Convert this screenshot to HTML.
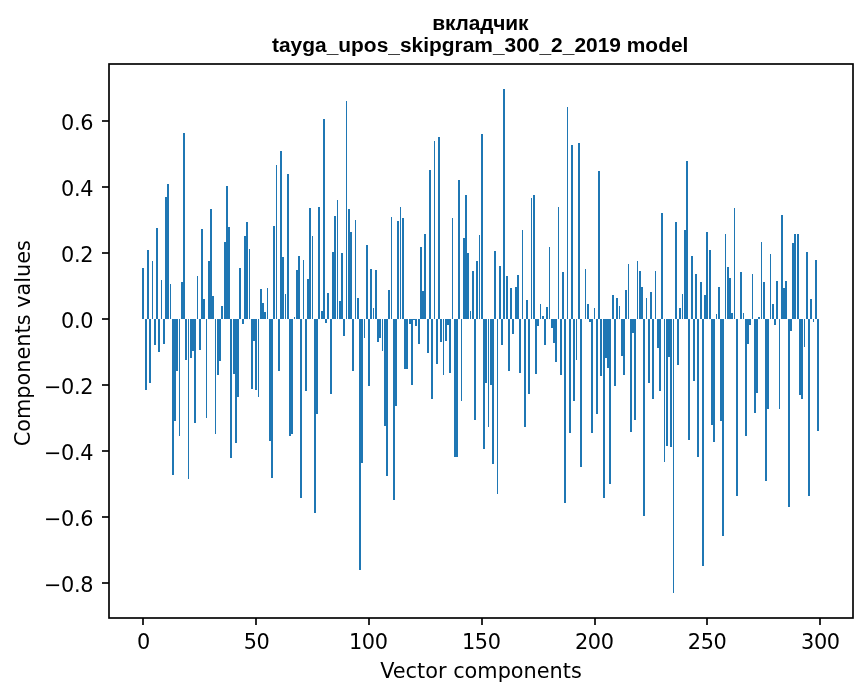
<!DOCTYPE html>
<html lang="ru"><head><meta charset="utf-8"><title>вкладчик</title>
<style>html,body{margin:0;padding:0;background:#fff}svg{display:block}</style></head><body>
<svg width="867" height="696" viewBox="0 0 867 696">
<rect width="867" height="696" fill="#fff"/>
<g fill="#1f77b4" shape-rendering="crispEdges">
<rect x="142" y="268" width="2" height="51"/>
<rect x="145" y="319" width="2" height="71"/>
<rect x="147" y="250" width="2" height="69"/>
<rect x="149" y="319" width="2" height="64"/>
<rect x="152" y="261" width="1" height="58"/>
<rect x="154" y="319" width="2" height="26"/>
<rect x="156" y="228" width="2" height="91"/>
<rect x="158" y="319" width="2" height="33"/>
<rect x="161" y="280" width="1" height="39"/>
<rect x="163" y="319" width="2" height="25"/>
<rect x="165" y="197" width="2" height="122"/>
<rect x="167" y="184" width="2" height="135"/>
<rect x="170" y="284" width="1" height="35"/>
<rect x="172" y="319" width="2" height="156"/>
<rect x="174" y="319" width="2" height="102"/>
<rect x="176" y="319" width="2" height="52"/>
<rect x="179" y="319" width="1" height="117"/>
<rect x="181" y="282" width="2" height="37"/>
<rect x="183" y="133" width="2" height="186"/>
<rect x="185" y="319" width="2" height="41"/>
<rect x="188" y="319" width="1" height="160"/>
<rect x="190" y="319" width="2" height="39"/>
<rect x="192" y="319" width="2" height="32"/>
<rect x="194" y="319" width="2" height="104"/>
<rect x="197" y="276" width="1" height="43"/>
<rect x="199" y="319" width="2" height="31"/>
<rect x="201" y="229" width="2" height="90"/>
<rect x="203" y="299" width="2" height="20"/>
<rect x="206" y="319" width="1" height="99"/>
<rect x="208" y="261" width="2" height="58"/>
<rect x="210" y="209" width="2" height="110"/>
<rect x="212" y="296" width="2" height="23"/>
<rect x="215" y="319" width="1" height="115"/>
<rect x="217" y="319" width="2" height="56"/>
<rect x="219" y="319" width="2" height="42"/>
<rect x="221" y="306" width="2" height="13"/>
<rect x="224" y="242" width="2" height="77"/>
<rect x="226" y="186" width="2" height="133"/>
<rect x="228" y="227" width="2" height="92"/>
<rect x="230" y="319" width="2" height="139"/>
<rect x="233" y="319" width="2" height="55"/>
<rect x="235" y="319" width="2" height="124"/>
<rect x="237" y="319" width="2" height="78"/>
<rect x="239" y="268" width="2" height="51"/>
<rect x="242" y="319" width="2" height="5"/>
<rect x="244" y="236" width="2" height="83"/>
<rect x="246" y="222" width="2" height="97"/>
<rect x="249" y="249" width="1" height="70"/>
<rect x="251" y="319" width="2" height="70"/>
<rect x="253" y="319" width="2" height="22"/>
<rect x="255" y="319" width="2" height="71"/>
<rect x="258" y="319" width="1" height="78"/>
<rect x="260" y="289" width="2" height="30"/>
<rect x="262" y="303" width="2" height="16"/>
<rect x="264" y="312" width="2" height="7"/>
<rect x="267" y="288" width="1" height="31"/>
<rect x="269" y="319" width="2" height="122"/>
<rect x="271" y="319" width="2" height="159"/>
<rect x="273" y="226" width="2" height="93"/>
<rect x="276" y="165" width="1" height="154"/>
<rect x="278" y="319" width="2" height="52"/>
<rect x="280" y="151" width="2" height="168"/>
<rect x="282" y="257" width="2" height="62"/>
<rect x="285" y="294" width="1" height="25"/>
<rect x="287" y="174" width="2" height="145"/>
<rect x="289" y="319" width="2" height="117"/>
<rect x="291" y="319" width="2" height="115"/>
<rect x="294" y="317" width="1" height="2"/>
<rect x="296" y="270" width="2" height="49"/>
<rect x="298" y="256" width="2" height="63"/>
<rect x="300" y="319" width="2" height="179"/>
<rect x="303" y="260" width="1" height="59"/>
<rect x="305" y="319" width="2" height="72"/>
<rect x="307" y="279" width="2" height="40"/>
<rect x="309" y="208" width="2" height="111"/>
<rect x="312" y="236" width="1" height="83"/>
<rect x="314" y="319" width="2" height="194"/>
<rect x="316" y="319" width="2" height="95"/>
<rect x="318" y="207" width="2" height="112"/>
<rect x="321" y="311" width="2" height="8"/>
<rect x="323" y="119" width="2" height="200"/>
<rect x="325" y="319" width="2" height="4"/>
<rect x="327" y="293" width="2" height="26"/>
<rect x="330" y="319" width="2" height="75"/>
<rect x="332" y="252" width="2" height="67"/>
<rect x="334" y="216" width="2" height="103"/>
<rect x="337" y="200" width="1" height="119"/>
<rect x="339" y="301" width="2" height="18"/>
<rect x="341" y="253" width="2" height="66"/>
<rect x="343" y="319" width="2" height="17"/>
<rect x="346" y="101" width="1" height="218"/>
<rect x="348" y="209" width="2" height="110"/>
<rect x="350" y="232" width="2" height="87"/>
<rect x="352" y="319" width="2" height="52"/>
<rect x="355" y="220" width="1" height="99"/>
<rect x="357" y="298" width="2" height="21"/>
<rect x="359" y="319" width="2" height="251"/>
<rect x="361" y="319" width="2" height="144"/>
<rect x="364" y="319" width="1" height="19"/>
<rect x="366" y="245" width="2" height="74"/>
<rect x="368" y="319" width="2" height="67"/>
<rect x="370" y="269" width="2" height="50"/>
<rect x="373" y="308" width="1" height="11"/>
<rect x="375" y="270" width="2" height="49"/>
<rect x="377" y="319" width="2" height="23"/>
<rect x="379" y="319" width="2" height="19"/>
<rect x="382" y="319" width="1" height="32"/>
<rect x="384" y="319" width="2" height="107"/>
<rect x="386" y="319" width="2" height="157"/>
<rect x="388" y="290" width="2" height="29"/>
<rect x="391" y="217" width="1" height="102"/>
<rect x="393" y="319" width="2" height="181"/>
<rect x="395" y="319" width="2" height="87"/>
<rect x="397" y="221" width="2" height="98"/>
<rect x="400" y="207" width="1" height="112"/>
<rect x="402" y="218" width="2" height="101"/>
<rect x="404" y="319" width="2" height="50"/>
<rect x="406" y="319" width="2" height="50"/>
<rect x="409" y="319" width="2" height="5"/>
<rect x="411" y="319" width="2" height="66"/>
<rect x="413" y="319" width="2" height="1"/>
<rect x="415" y="319" width="2" height="7"/>
<rect x="418" y="319" width="2" height="25"/>
<rect x="420" y="247" width="2" height="72"/>
<rect x="422" y="291" width="2" height="28"/>
<rect x="424" y="234" width="2" height="85"/>
<rect x="427" y="319" width="2" height="34"/>
<rect x="429" y="170" width="2" height="149"/>
<rect x="431" y="319" width="2" height="80"/>
<rect x="434" y="141" width="1" height="178"/>
<rect x="436" y="319" width="2" height="45"/>
<rect x="438" y="137" width="2" height="182"/>
<rect x="440" y="319" width="2" height="23"/>
<rect x="443" y="319" width="1" height="56"/>
<rect x="445" y="319" width="2" height="22"/>
<rect x="447" y="319" width="2" height="6"/>
<rect x="449" y="319" width="2" height="54"/>
<rect x="452" y="218" width="1" height="101"/>
<rect x="454" y="319" width="2" height="138"/>
<rect x="456" y="319" width="2" height="138"/>
<rect x="458" y="180" width="2" height="139"/>
<rect x="461" y="319" width="1" height="82"/>
<rect x="463" y="238" width="2" height="81"/>
<rect x="465" y="195" width="2" height="124"/>
<rect x="467" y="253" width="2" height="66"/>
<rect x="470" y="311" width="1" height="8"/>
<rect x="472" y="271" width="2" height="48"/>
<rect x="474" y="319" width="2" height="101"/>
<rect x="476" y="261" width="2" height="58"/>
<rect x="479" y="235" width="1" height="84"/>
<rect x="481" y="134" width="2" height="185"/>
<rect x="483" y="319" width="2" height="130"/>
<rect x="485" y="319" width="2" height="64"/>
<rect x="488" y="319" width="1" height="108"/>
<rect x="490" y="319" width="2" height="66"/>
<rect x="492" y="319" width="2" height="145"/>
<rect x="494" y="251" width="2" height="68"/>
<rect x="497" y="319" width="1" height="175"/>
<rect x="499" y="266" width="2" height="53"/>
<rect x="501" y="319" width="2" height="26"/>
<rect x="503" y="89" width="2" height="230"/>
<rect x="506" y="276" width="2" height="43"/>
<rect x="508" y="319" width="2" height="52"/>
<rect x="510" y="288" width="2" height="31"/>
<rect x="512" y="319" width="2" height="15"/>
<rect x="515" y="287" width="2" height="32"/>
<rect x="517" y="275" width="2" height="44"/>
<rect x="519" y="319" width="2" height="54"/>
<rect x="522" y="230" width="1" height="89"/>
<rect x="524" y="319" width="2" height="108"/>
<rect x="526" y="300" width="2" height="19"/>
<rect x="528" y="319" width="2" height="75"/>
<rect x="531" y="198" width="1" height="121"/>
<rect x="533" y="195" width="2" height="124"/>
<rect x="535" y="319" width="2" height="55"/>
<rect x="537" y="319" width="2" height="7"/>
<rect x="540" y="304" width="1" height="15"/>
<rect x="542" y="316" width="2" height="3"/>
<rect x="544" y="319" width="2" height="26"/>
<rect x="546" y="307" width="2" height="12"/>
<rect x="549" y="247" width="1" height="72"/>
<rect x="551" y="319" width="2" height="9"/>
<rect x="553" y="319" width="2" height="24"/>
<rect x="555" y="319" width="2" height="43"/>
<rect x="558" y="207" width="1" height="112"/>
<rect x="560" y="319" width="2" height="56"/>
<rect x="562" y="272" width="2" height="47"/>
<rect x="564" y="319" width="2" height="184"/>
<rect x="567" y="107" width="1" height="212"/>
<rect x="569" y="319" width="2" height="114"/>
<rect x="571" y="145" width="2" height="174"/>
<rect x="573" y="319" width="2" height="82"/>
<rect x="576" y="319" width="1" height="41"/>
<rect x="578" y="143" width="2" height="176"/>
<rect x="580" y="319" width="2" height="148"/>
<rect x="585" y="269" width="1" height="50"/>
<rect x="587" y="304" width="2" height="15"/>
<rect x="589" y="319" width="2" height="3"/>
<rect x="591" y="319" width="2" height="114"/>
<rect x="594" y="308" width="1" height="11"/>
<rect x="596" y="319" width="2" height="95"/>
<rect x="598" y="171" width="2" height="148"/>
<rect x="600" y="319" width="2" height="57"/>
<rect x="603" y="319" width="2" height="179"/>
<rect x="605" y="319" width="2" height="39"/>
<rect x="607" y="319" width="2" height="49"/>
<rect x="609" y="319" width="2" height="165"/>
<rect x="612" y="295" width="2" height="24"/>
<rect x="614" y="319" width="2" height="67"/>
<rect x="616" y="298" width="2" height="21"/>
<rect x="619" y="306" width="1" height="13"/>
<rect x="621" y="319" width="2" height="37"/>
<rect x="623" y="319" width="2" height="56"/>
<rect x="625" y="290" width="2" height="29"/>
<rect x="628" y="264" width="1" height="55"/>
<rect x="630" y="319" width="2" height="113"/>
<rect x="632" y="319" width="2" height="14"/>
<rect x="634" y="319" width="2" height="101"/>
<rect x="637" y="261" width="1" height="58"/>
<rect x="639" y="271" width="2" height="48"/>
<rect x="641" y="287" width="2" height="32"/>
<rect x="643" y="319" width="2" height="197"/>
<rect x="646" y="298" width="1" height="21"/>
<rect x="648" y="319" width="2" height="64"/>
<rect x="650" y="292" width="2" height="27"/>
<rect x="652" y="319" width="2" height="80"/>
<rect x="655" y="271" width="1" height="48"/>
<rect x="657" y="319" width="2" height="29"/>
<rect x="659" y="319" width="2" height="72"/>
<rect x="661" y="213" width="2" height="106"/>
<rect x="664" y="319" width="1" height="143"/>
<rect x="666" y="319" width="2" height="127"/>
<rect x="668" y="319" width="2" height="38"/>
<rect x="670" y="319" width="2" height="128"/>
<rect x="673" y="319" width="1" height="274"/>
<rect x="675" y="222" width="2" height="97"/>
<rect x="677" y="319" width="2" height="46"/>
<rect x="679" y="308" width="2" height="11"/>
<rect x="682" y="294" width="1" height="25"/>
<rect x="684" y="230" width="2" height="89"/>
<rect x="686" y="161" width="2" height="158"/>
<rect x="688" y="319" width="2" height="121"/>
<rect x="691" y="256" width="2" height="63"/>
<rect x="693" y="319" width="2" height="62"/>
<rect x="695" y="274" width="2" height="45"/>
<rect x="697" y="319" width="2" height="138"/>
<rect x="700" y="282" width="2" height="37"/>
<rect x="702" y="319" width="2" height="247"/>
<rect x="704" y="295" width="2" height="24"/>
<rect x="706" y="232" width="2" height="87"/>
<rect x="709" y="250" width="2" height="69"/>
<rect x="711" y="319" width="2" height="106"/>
<rect x="713" y="319" width="2" height="123"/>
<rect x="716" y="314" width="1" height="5"/>
<rect x="718" y="287" width="2" height="32"/>
<rect x="720" y="319" width="2" height="102"/>
<rect x="722" y="319" width="2" height="217"/>
<rect x="725" y="234" width="1" height="85"/>
<rect x="727" y="267" width="2" height="52"/>
<rect x="729" y="278" width="2" height="41"/>
<rect x="731" y="313" width="2" height="6"/>
<rect x="734" y="208" width="1" height="111"/>
<rect x="736" y="319" width="2" height="177"/>
<rect x="740" y="272" width="2" height="47"/>
<rect x="743" y="313" width="1" height="6"/>
<rect x="745" y="319" width="2" height="117"/>
<rect x="747" y="319" width="2" height="25"/>
<rect x="749" y="319" width="2" height="6"/>
<rect x="752" y="274" width="1" height="45"/>
<rect x="754" y="319" width="2" height="94"/>
<rect x="756" y="319" width="2" height="74"/>
<rect x="758" y="317" width="2" height="2"/>
<rect x="761" y="242" width="1" height="77"/>
<rect x="763" y="282" width="2" height="37"/>
<rect x="765" y="319" width="2" height="162"/>
<rect x="767" y="319" width="2" height="90"/>
<rect x="770" y="254" width="1" height="65"/>
<rect x="772" y="304" width="2" height="15"/>
<rect x="774" y="319" width="2" height="6"/>
<rect x="776" y="281" width="2" height="38"/>
<rect x="779" y="319" width="1" height="90"/>
<rect x="781" y="215" width="2" height="104"/>
<rect x="783" y="288" width="2" height="31"/>
<rect x="785" y="281" width="2" height="38"/>
<rect x="788" y="319" width="2" height="188"/>
<rect x="790" y="319" width="2" height="12"/>
<rect x="792" y="243" width="2" height="76"/>
<rect x="794" y="234" width="2" height="85"/>
<rect x="797" y="234" width="2" height="85"/>
<rect x="799" y="319" width="2" height="76"/>
<rect x="801" y="319" width="2" height="80"/>
<rect x="804" y="319" width="1" height="28"/>
<rect x="806" y="252" width="2" height="67"/>
<rect x="808" y="319" width="2" height="177"/>
<rect x="810" y="299" width="2" height="20"/>
<rect x="813" y="319" width="1" height="3"/>
<rect x="815" y="260" width="2" height="59"/>
<rect x="817" y="319" width="2" height="112"/>
</g>
<rect x="109" y="64" width="744" height="554" fill="none" stroke="#000" stroke-width="1.67"/>
<g stroke="#000" stroke-width="1.67">
<line x1="143" x2="143" y1="618" y2="625"/>
<line x1="256" x2="256" y1="618" y2="625"/>
<line x1="369" x2="369" y1="618" y2="625"/>
<line x1="482" x2="482" y1="618" y2="625"/>
<line x1="595" x2="595" y1="618" y2="625"/>
<line x1="707" x2="707" y1="618" y2="625"/>
<line x1="820" x2="820" y1="618" y2="625"/>
<line x1="102" x2="109" y1="583" y2="583"/>
<line x1="102" x2="109" y1="517" y2="517"/>
<line x1="102" x2="109" y1="451" y2="451"/>
<line x1="102" x2="109" y1="385" y2="385"/>
<line x1="102" x2="109" y1="319" y2="319"/>
<line x1="102" x2="109" y1="253" y2="253"/>
<line x1="102" x2="109" y1="187" y2="187"/>
<line x1="102" x2="109" y1="121" y2="121"/>
</g>
<g font-family="'DejaVu Sans', sans-serif" font-size="20.83px" fill="#000">
<text x="143.49" y="648.5" text-anchor="middle" letter-spacing="-0.4">0</text>
<text x="256.49" y="648.5" text-anchor="middle" letter-spacing="-0.4">50</text>
<text x="368.29" y="648.5" text-anchor="middle" letter-spacing="-0.4">100</text>
<text x="481.29" y="648.5" text-anchor="middle" letter-spacing="-0.4">150</text>
<text x="594.30" y="648.5" text-anchor="middle" letter-spacing="-0.4">200</text>
<text x="707.10" y="648.5" text-anchor="middle" letter-spacing="-0.4">250</text>
<text x="820.40" y="648.5" text-anchor="middle" letter-spacing="-0.4">300</text>
<text x="93.2" y="592.20" text-anchor="end" letter-spacing="-0.33">−0.8</text>
<text x="93.2" y="526.20" text-anchor="end" letter-spacing="-0.33">−0.6</text>
<text x="93.2" y="460.20" text-anchor="end" letter-spacing="-0.33">−0.4</text>
<text x="93.2" y="394.20" text-anchor="end" letter-spacing="-0.33">−0.2</text>
<text x="93.2" y="328.20" text-anchor="end" letter-spacing="-0.33">0.0</text>
<text x="93.2" y="262.20" text-anchor="end" letter-spacing="-0.33">0.2</text>
<text x="93.2" y="196.20" text-anchor="end" letter-spacing="-0.33">0.4</text>
<text x="93.2" y="130.20" text-anchor="end" letter-spacing="-0.33">0.6</text>
<text x="481" y="677.7" text-anchor="middle">Vector components</text>
<text transform="translate(30,343.2) rotate(-90)" text-anchor="middle">Components values</text>
</g>
<g font-family="'Liberation Sans', sans-serif" font-weight="bold" font-size="20.93px" fill="#000" text-anchor="middle">
<text x="480.3" y="29.6" letter-spacing="-0.17">вкладчик</text>
<text x="480.2" y="52.1">tayga_upos_skipgram_300_2_2019 model</text>
</g>
</svg>
</body></html>
